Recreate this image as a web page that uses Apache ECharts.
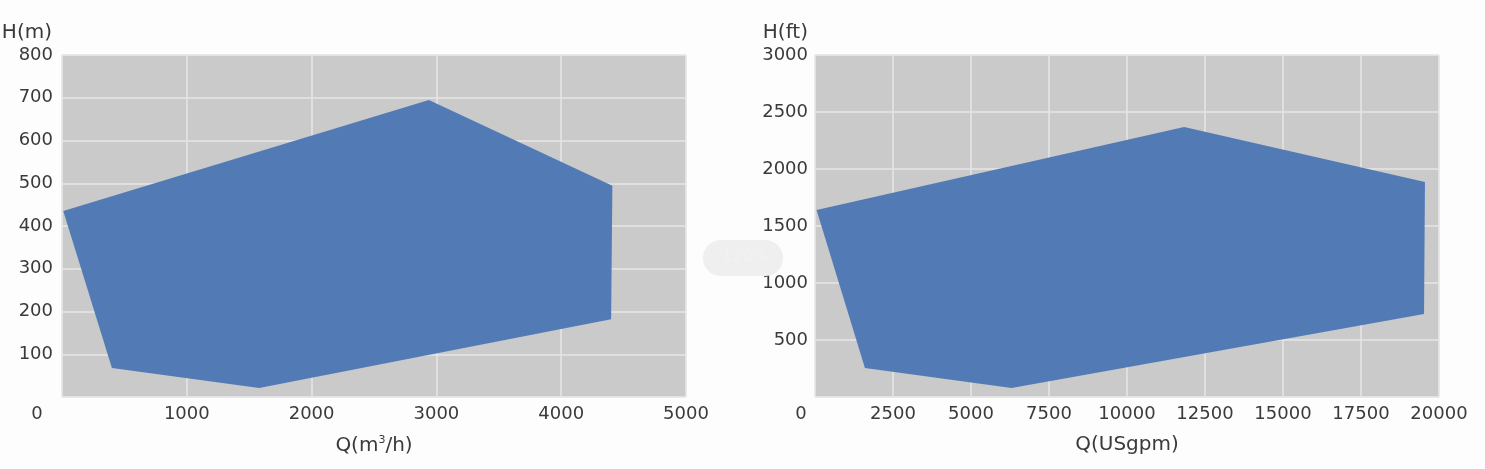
<!DOCTYPE html>
<html><head><meta charset="utf-8">
<script src="https://cdn.jsdelivr.net/npm/echarts@6/dist/echarts.min.js"></script>
<style>html,body{margin:0;padding:0;background:#fdfdfd;}#c{width:1485px;height:469px;}</style>
</head><body><div id="c"></div>
<script>
// Left chart: Q (m3/h) vs H (m)
var leftQ = [10, 400, 1580, 4400, 4410, 2940];
var leftH = [435, 68, 21, 182, 494, 695];
// Right chart: Q (USgpm) vs H (ft)
var rightQ = [50, 1600, 6300, 19520, 19550, 11830];
var rightH = [1640, 254, 79, 728, 1886, 2368];
var leftXTicks = {min: 0, max: 5000, interval: 1000};
var leftYTicks = {min: 0, max: 800, interval: 100};
var rightXTicks = {min: 0, max: 20000, interval: 2500};
var rightYTicks = {min: 0, max: 3000, interval: 500};
var leftXName = 'Q(m{sup|3}/h)', leftYName = 'H(m)';
var rightXName = 'Q(USgpm)', rightYName = 'H(ft)';

var FONT = "'DejaVu Sans', 'Liberation Sans', sans-serif";
var FS = 18, NFS = 20;
var TXT = '#3a3a3a';
var chart = echarts.init(document.getElementById('c'), null, {renderer: 'canvas'});

function xAxis(idx, t, name, shift) {
  return {
    type: 'value', gridIndex: idx, min: t.min, max: t.max, interval: t.interval,
    name: name, nameLocation: 'middle', nameGap: 38,
    nameTextStyle: {color: TXT, fontSize: NFS, fontFamily: FONT,
      rich: {sup: {fontSize: 11, verticalAlign: 'top', padding: [0, 0, 10, 0], color: TXT, fontFamily: FONT}}},
    axisLine: {show: false}, axisTick: {show: false},
    splitLine: {show: true, lineStyle: {color: '#e6e6e6', width: 1.5}},
    axisLabel: {color: TXT, fontSize: FS, fontFamily: FONT, margin: 8,
      formatter: function (v) { return v === 0 ? '{z|0}' : String(v); },
      rich: {z: {padding: [0, shift, 0, 0], fontSize: FS, fontFamily: FONT, color: TXT}}}
  };
}
function yAxis(idx, t, name, pad, margin) {
  return {
    type: 'value', gridIndex: idx, min: t.min, max: t.max, interval: t.interval,
    name: name, nameLocation: 'end', nameGap: 12,
    nameTextStyle: {color: TXT, fontSize: NFS, fontFamily: FONT, align: 'right', padding: [0, pad, 0, 0]},
    axisLine: {show: false}, axisTick: {show: false},
    splitLine: {show: true, lineStyle: {color: '#e6e6e6', width: 1.5}},
    axisLabel: {color: TXT, fontSize: FS, fontFamily: FONT, margin: margin, showMinLabel: false,
      formatter: function (v) { return String(v); }}
  };
}
function polySeries(idx, qs, hs) {
  return {
    type: 'custom', xAxisIndex: idx, yAxisIndex: idx,
    data: [[qs[0], hs[0]]],
    renderItem: function (params, api) {
      var pts = qs.map(function (q, i) { return api.coord([q, hs[i]]); });
      return {type: 'polygon', shape: {points: pts}, style: {fill: '#527bb5'}};
    },
    silent: true
  };
}

chart.setOption({
  backgroundColor: '#fdfdfd',
  animation: false,
  grid: [
    {left: 62, top: 55, width: 624, height: 342, show: true, backgroundColor: '#c9cac9', borderColor: '#e6e6e6', borderWidth: 1},
    {left: 815, top: 55, width: 624, height: 342, show: true, backgroundColor: '#c9cac9', borderColor: '#e6e6e6', borderWidth: 1}
  ],
  xAxis: [xAxis(0, leftXTicks, leftXName, 50), xAxis(1, rightXTicks, rightXName, 28)],
  yAxis: [yAxis(0, leftYTicks, leftYName, 10, 9), yAxis(1, rightYTicks, rightYName, 7, 7)],
  series: [polySeries(0, leftQ, leftH), polySeries(1, rightQ, rightH)],
  graphic: [
    {type: 'rect', left: 703, top: 240, shape: {width: 80, height: 36, r: 18}, style: {fill: '#efefef'}, z: 100},
    {type: 'text', left: 722, top: 249, style: {text: '120%', fill: '#f2f2f2', font: "16px " + FONT}, z: 101}
  ]
});
</script></body></html>
